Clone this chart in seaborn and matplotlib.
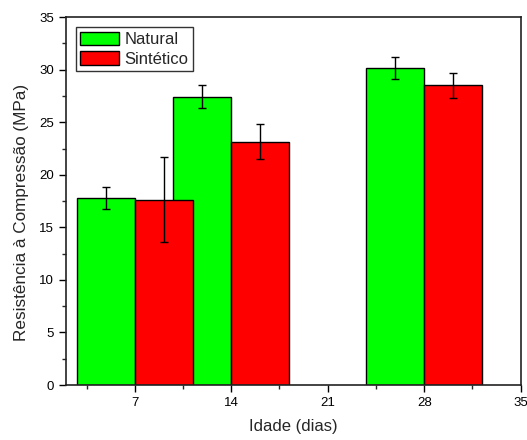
import matplotlib
matplotlib.use("Agg")
import matplotlib.pyplot as plt
import seaborn as sns
import pandas as pd
import numpy as np
from matplotlib.ticker import MultipleLocator

dias = [7, 14, 28]
natural = [17.8, 27.45, 30.15]
natural_err = [1.05, 1.1, 1.05]
sintetico = [17.65, 23.15, 28.5]
sintetico_err = [4.0, 1.65, 1.15]
series = ["Natural", "Sintético"]
colors = ["#00FF00", "#FF0000"]

df = pd.DataFrame({
    "dias": dias * 2,
    "val": natural + sintetico,
    "tipo": [series[0]] * len(dias) + [series[1]] * len(dias),
})
errs = {series[0]: natural_err, series[1]: sintetico_err}

sns.set_theme(style="ticks")
plt.rcParams["font.family"] = ["Liberation Sans", "DejaVu Sans"]

fig = plt.figure(figsize=(5.27, 4.40), dpi=100)
ax = fig.add_axes([0.125, 0.125, 0.863, 0.836])

sns.barplot(data=df, x="dias", y="val", hue="tipo", native_scale=True,
            width=1.2, palette=colors, edgecolor="black", linewidth=1.0,
            errorbar=None, saturation=1, ax=ax)

for cont, name in zip(ax.containers, series):
    xs = [p.get_x() + p.get_width() / 2 for p in cont.patches]
    hs = [p.get_height() for p in cont.patches]
    ax.errorbar(xs, hs, yerr=errs[name], fmt="none", ecolor="black",
                elinewidth=1.0, capsize=3, capthick=1.0)

ax.set_xlim(2, 35)
ax.set_ylim(0, 35)
ax.xaxis.set_major_locator(MultipleLocator(7))
ax.xaxis.set_minor_locator(MultipleLocator(3.5))
ax.yaxis.set_major_locator(MultipleLocator(5))
ax.yaxis.set_minor_locator(MultipleLocator(2.5))
ax.tick_params(which="major", direction="out", length=5, width=1, labelsize=9.5, colors="black")
ax.tick_params(which="minor", direction="out", length=3, width=1)
for s in ax.spines.values():
    s.set_visible(True)
    s.set_linewidth(1.2)
    s.set_color("#222222")

ax.set_xlabel("Idade (dias)", fontsize=12, labelpad=7)
ax.set_ylabel("Resistência à Compressão (MPa)", fontsize=12.3)
ax.yaxis.set_label_coords(-0.082, 0.47)

leg = ax.legend(loc="upper left", frameon=True,
                fancybox=False, fontsize=12, handlelength=2.3, handleheight=0.9,
                borderpad=0.25, labelspacing=0.25, handletextpad=0.35,
                borderaxespad=0.62, title=None)
leg.get_frame().set_edgecolor("black")
leg.get_frame().set_linewidth(1.0)

fig.savefig("out.png", dpi=100)
